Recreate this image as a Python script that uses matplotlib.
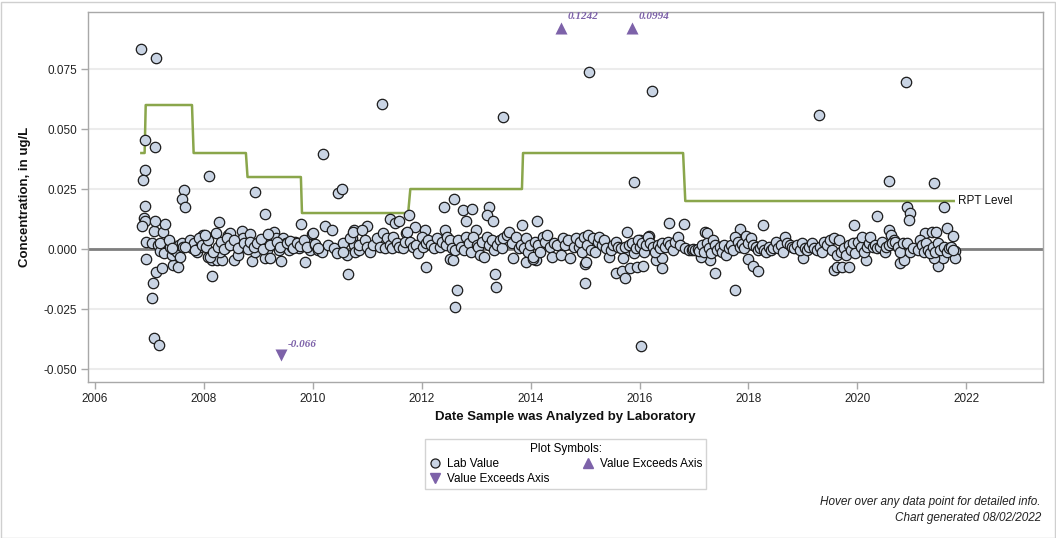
import matplotlib
matplotlib.use("Agg")
import matplotlib.pyplot as plt
from matplotlib.lines import Line2D
from matplotlib.patches import Rectangle

plt.rcParams['font.family'] = ['Liberation Sans', 'DejaVu Sans']
plt.rcParams['axes.unicode_minus'] = False

# ---------------- data (decimal year, concentration ug/L) ----------------
lab_2006_2008 = [
    (2006.845, 0.0833), (2007.12, 0.0796), (2006.92, 0.0454), (2007.10, 0.0425), (2006.92, 0.0329),
    (2006.88, 0.0288), (2006.92, 0.0179), (2006.90, 0.0129), (2006.92, 0.0117), (2006.86, 0.0096),
    (2006.94, 0.0029), (2007.05, 0.0025), (2006.94, -0.0042), (2007.08, 0.0075), (2007.10, 0.0117),
    (2007.12, -0.0096), (2007.07, -0.0142), (2007.05, -0.0204), (2007.08, -0.0371), (2007.18, -0.0400),
    (2007.23, -0.0079), (2007.25, 0.0071), (2007.29, 0.0104), (2007.63, 0.0246), (2007.60, 0.0208),
    (2007.65, 0.0175), (2007.43, -0.0067), (2007.52, -0.0075),
    (2007.15, 0.0017), (2007.19, -0.0007), (2007.26, -0.0015), (2007.32, 0.0024), (2007.36, 0.0033),
    (2007.38, 0.0010), (2007.41, -0.0025), (2007.44, -0.0001), (2007.50, -0.0011), (2007.55, 0.0017),
    (2007.56, -0.0032), (2007.59, 0.0024), (2007.62, 0.0010), (2007.75, 0.0038), (2007.78, 0.0003),
    (2007.81, 0.0024), (2007.87, -0.0011), (2007.92, 0.0010), (2007.94, 0.0051), (2007.99, 0.0058),
    (2007.19, 0.0024), (2007.35, 0.0038), (2007.41, 0.0003), (2007.65, 0.0007), (2007.84, -0.0004),
    (2007.90, 0.0044), (2007.96, 0.0017),
]

lab_2008_2010 = [
    (2008.09, 0.0304), (2008.15, -0.0112), (2008.94, 0.0238), (2009.12, 0.0146), (2009.78, 0.0104),
    (2008.05, 0.0051), (2008.04, 0.0010), (2008.07, 0.0038), (2008.08, -0.0032), (2008.14, -0.0046),
    (2008.17, -0.0025), (2008.22, 0.0068), (2008.27, 0.0114), (2008.24, -0.0046), (2008.33, -0.0046),
    (2008.30, -0.0011), (2008.39, 0.0003), (2008.45, 0.0058), (2008.48, 0.0065), (2008.54, 0.0031),
    (2008.56, -0.0046), (2008.63, -0.0025), (2008.66, 0.0010), (2008.69, 0.0076), (2008.71, 0.0044),
    (2008.77, 0.0010), (2008.84, 0.0063), (2008.89, -0.0051), (2008.94, -0.0011), (2008.97, 0.0017),
    (2009.03, 0.0024), (2009.09, 0.0031), (2009.15, -0.0004), (2009.13, -0.0039), (2009.21, -0.0039),
    (2009.28, 0.0072), (2009.33, 0.0044), (2009.37, -0.0004), (2009.41, -0.0050), (2009.46, 0.0044),
    (2009.50, 0.0024), (2009.56, -0.0004), (2009.61, 0.0010), (2009.67, 0.0031), (2009.74, 0.0003),
    (2009.86, -0.0053), (2009.89, 0.0024), (2009.95, -0.0004),
    (2008.02, 0.0058), (2008.11, -0.0032), (2008.17, -0.0011), (2008.25, 0.0010), (2008.31, 0.0031),
    (2008.36, -0.0001), (2008.43, 0.0044), (2008.48, 0.0017), (2008.55, 0.0038), (2008.62, 0.0003),
    (2008.73, 0.0024), (2008.80, -0.0001), (2008.85, 0.0031), (2008.92, 0.0007), (2008.98, 0.0024),
    (2009.04, 0.0040), (2009.09, -0.0001), (2009.17, 0.0063), (2009.22, 0.0017), (2009.34, 0.0031),
    (2009.40, 0.0007), (2009.52, 0.0024), (2009.58, 0.0035), (2009.64, 0.0003), (2009.71, 0.0026),
    (2009.77, 0.0013), (2009.83, 0.0038), (2009.90, 0.0007), (2009.98, 0.0063),
]

lab_2010_2012 = [
    (2010.19, 0.0396), (2011.27, 0.0604), (2010.47, 0.0232), (2010.53, 0.0249), (2010.65, -0.0104),
    (2011.76, 0.0142), (2011.42, 0.0124), (2011.51, 0.0107), (2011.59, 0.0118), (2011.88, 0.0093),
    (2011.00, 0.0096), (2011.71, 0.0065),
    (2010.01, 0.0065), (2010.04, 0.0017), (2010.10, -0.0004), (2010.16, -0.0011), (2010.23, 0.0096),
    (2010.27, 0.0017), (2010.36, 0.0079), (2010.38, 0.0003), (2010.44, -0.0018), (2010.56, 0.0024),
    (2010.62, -0.0025), (2010.72, 0.0044), (2010.75, 0.0017), (2010.78, -0.0011), (2010.75, 0.0079),
    (2010.84, -0.0004), (2010.04, 0.0021), (2010.10, 0.0003),
    (2010.56, -0.0011), (2010.68, 0.0044), (2010.74, 0.0072), (2010.84, 0.0017), (2010.90, 0.0079),
    (2010.96, 0.0038), (2011.00, 0.0010), (2011.05, -0.0011), (2011.11, 0.0017), (2011.17, 0.0044),
    (2011.23, 0.0010), (2011.28, 0.0068), (2011.33, 0.0003), (2011.37, 0.0044), (2011.42, 0.0017),
    (2011.45, 0.0003), (2011.48, 0.0051), (2011.54, 0.0024), (2011.58, 0.0010), (2011.65, 0.0003),
    (2011.69, 0.0031), (2011.72, 0.0072), (2011.79, 0.0031), (2011.84, 0.0010), (2011.90, 0.0017),
    (2011.94, -0.0018),
]

lab_2012_2014 = [
    (2012.41, 0.0176), (2012.59, 0.0208), (2012.76, 0.0163), (2012.93, 0.0165), (2012.81, 0.0117),
    (2013.23, 0.0176), (2013.20, 0.0142), (2013.30, 0.0117), (2013.85, 0.0100), (2013.49, 0.0550),
    (2012.06, 0.0079), (2012.43, 0.0079), (2013.00, 0.0079), (2012.08, -0.0076), (2012.52, -0.0042),
    (2012.58, -0.0046), (2012.64, -0.0171), (2012.61, -0.0243), (2013.35, -0.0106), (2013.37, -0.0157),
    (2013.91, -0.0053),
    (2012.00, 0.0051), (2012.03, 0.0010), (2012.08, 0.0024), (2012.12, 0.0038), (2012.17, 0.0017),
    (2012.23, 0.0003), (2012.28, 0.0044), (2012.34, 0.0010), (2012.37, 0.0031), (2012.45, 0.0017),
    (2012.47, 0.0051), (2012.52, 0.0038), (2012.55, 0.0003), (2012.61, -0.0004), (2012.67, 0.0038),
    (2012.72, 0.0010), (2012.77, -0.0004), (2012.81, 0.0051), (2012.86, 0.0024), (2012.90, -0.0011),
    (2012.95, 0.0051), (2013.01, 0.0017), (2013.03, 0.0010), (2013.07, -0.0025), (2013.10, 0.0031),
    (2013.15, -0.0032), (2013.19, 0.0051), (2013.24, 0.0017), (2013.29, 0.0038), (2013.33, -0.0004),
    (2013.38, 0.0017), (2013.43, 0.0038), (2013.47, 0.0003), (2013.50, 0.0044), (2013.56, 0.0058),
    (2013.61, 0.0072), (2013.65, 0.0024), (2013.68, -0.0039), (2013.73, 0.0051), (2013.78, 0.0003),
    (2013.82, 0.0017), (2013.87, 0.0003), (2013.91, 0.0044), (2013.96, -0.0011), (2013.99, 0.0017),
]

lab_2014_2016 = [
    (2014.11, 0.0117), (2015.07, 0.0737), (2016.23, 0.0658), (2015.90, 0.0280), (2016.55, 0.0107),
    (2016.81, 0.0104), (2014.09, -0.0046), (2015.00, -0.0140), (2014.99, -0.0064), (2015.01, -0.0053),
    (2015.57, -0.0099), (2015.67, -0.0090), (2015.74, -0.0122), (2015.83, -0.0081), (2015.95, -0.0074),
    (2016.07, -0.0071), (2016.03, -0.0404), (2016.31, -0.0046), (2016.41, -0.0039), (2016.41, -0.0081),
    (2015.77, 0.0069), (2016.17, 0.0054), (2016.01, 0.0038), (2015.78, -0.0004), (2014.05, -0.0043),
    (2014.04, -0.0032), (2014.08, 0.0031), (2014.13, 0.0017), (2014.17, -0.0011), (2014.22, 0.0051),
    (2014.26, 0.0031), (2014.30, 0.0058), (2014.35, 0.0010), (2014.39, -0.0032), (2014.42, 0.0024),
    (2014.48, 0.0017), (2014.55, -0.0025), (2014.59, 0.0044), (2014.63, 0.0017), (2014.68, 0.0038),
    (2014.73, -0.0039), (2014.79, 0.0010), (2014.84, 0.0044), (2014.88, 0.0010), (2014.91, 0.0031),
    (2014.94, -0.0011), (2014.98, 0.0051), (2015.03, 0.0017), (2015.06, 0.0058), (2015.11, -0.0004),
    (2015.14, 0.0044), (2015.18, -0.0011), (2015.23, 0.0031), (2015.26, 0.0051), (2015.31, 0.0017),
    (2015.34, 0.0038), (2015.39, 0.0003), (2015.43, -0.0032), (2015.47, -0.0004), (2015.52, 0.0017),
    (2015.57, 0.0031), (2015.61, 0.0010), (2015.66, 0.0003), (2015.69, -0.0039), (2015.74, 0.0010),
    (2015.80, 0.0017), (2015.86, 0.0024), (2015.89, -0.0018), (2015.94, 0.0003), (2015.97, 0.0038),
    (2016.00, 0.0010), (2016.04, 0.0024), (2016.09, -0.0011), (2016.12, 0.0017), (2016.15, 0.0051),
    (2016.20, 0.0024), (2016.24, 0.0010), (2016.29, -0.0011), (2016.33, 0.0017), (2016.37, 0.0003),
    (2016.41, 0.0024), (2016.47, 0.0010), (2016.53, 0.0031), (2016.56, 0.0017), (2016.61, -0.0004),
    (2016.65, 0.0031), (2016.70, 0.0051), (2016.75, 0.0017),
]

lab_2017_2021 = [
    (2020.58, 0.0285), (2021.40, 0.0274), (2021.60, 0.0176), (2020.91, 0.0176), (2020.97, 0.0149),
    (2020.94, 0.0121), (2020.37, 0.0138), (2019.94, 0.0100), (2018.26, 0.0100), (2017.85, 0.0082),
    (2017.21, 0.0072), (2017.24, 0.0068), (2020.58, 0.0079), (2020.61, 0.0058), (2020.67, 0.0038),
    (2021.25, 0.0065), (2021.37, 0.0072), (2021.45, 0.0069), (2021.65, 0.0086), (2021.76, 0.0054),
    (2021.79, -0.0008), (2021.79, -0.0039), (2017.75, -0.0171), (2017.39, -0.0101), (2018.00, -0.0042),
    (2018.08, -0.0071), (2018.17, -0.0090), (2019.00, -0.0039), (2019.57, -0.0088), (2019.63, -0.0076),
    (2019.72, -0.0074), (2019.84, -0.0076), (2020.79, -0.0060), (2020.86, -0.0046), (2021.48, -0.0071),
    (2021.57, -0.0039), (2021.41, -0.0039), (2017.30, -0.0046), (2017.13, -0.0035), (2020.15, -0.0046),
    (2019.30, 0.0558), (2020.90, 0.0696),
    (2016.84, 0.0003), (2016.90, -0.0004), (2016.96, -0.0004), (2016.99, -0.0001), (2017.02, -0.0004),
    (2017.07, 0.0000), (2017.10, -0.0007), (2017.15, 0.0017), (2017.18, -0.0011), (2017.23, 0.0024),
    (2017.27, 0.0003), (2017.31, -0.0018), (2017.35, 0.0038), (2017.39, 0.0017), (2017.43, -0.0004),
    (2017.47, 0.0010), (2017.51, -0.0011), (2017.56, 0.0017), (2017.59, -0.0025), (2017.64, 0.0003),
    (2017.68, 0.0017), (2017.72, -0.0004), (2017.76, 0.0051), (2017.80, 0.0031), (2017.84, 0.0010),
    (2017.88, 0.0021), (2017.92, 0.0003), (2017.96, 0.0054), (2018.00, 0.0024), (2018.05, 0.0044),
    (2018.08, 0.0017), (2018.13, 0.0010), (2018.17, -0.0004), (2018.21, 0.0003), (2018.25, 0.0017),
    (2018.29, -0.0004), (2018.33, -0.0011), (2018.37, 0.0010), (2018.41, -0.0004), (2018.46, 0.0003),
    (2018.51, 0.0031), (2018.55, 0.0003), (2018.59, 0.0017), (2018.63, -0.0011), (2018.68, 0.0051),
    (2018.71, 0.0024), (2018.76, 0.0017), (2018.80, 0.0010), (2018.84, 0.0003), (2018.89, 0.0017),
    (2018.94, -0.0004), (2018.98, 0.0024), (2019.03, 0.0003), (2019.08, -0.0004), (2019.12, 0.0010),
    (2019.17, 0.0024), (2019.21, 0.0003), (2019.26, -0.0004), (2019.31, 0.0010), (2019.35, -0.0011),
    (2019.39, 0.0031), (2019.44, 0.0017), (2019.49, 0.0038), (2019.53, -0.0004), (2019.58, 0.0044),
    (2019.63, -0.0025), (2019.66, 0.0038), (2019.70, -0.0011), (2019.75, 0.0003), (2019.80, -0.0025),
    (2019.84, 0.0017), (2019.88, -0.0004), (2019.92, 0.0024), (2019.96, -0.0018), (2020.01, 0.0031),
    (2020.06, 0.0010), (2020.09, 0.0051), (2020.13, -0.0011), (2020.17, 0.0010), (2020.21, 0.0024),
    (2020.24, 0.0051), (2020.29, 0.0010), (2020.33, 0.0017), (2020.37, 0.0003), (2020.41, 0.0010),
    (2020.45, 0.0031), (2020.50, -0.0011), (2020.53, 0.0010), (2020.58, 0.0017), (2020.64, 0.0024),
    (2020.70, 0.0031), (2020.74, 0.0010), (2020.79, -0.0011), (2020.84, 0.0024), (2020.92, 0.0024),
    (2020.97, -0.0011), (2021.03, 0.0003), (2021.11, -0.0004), (2021.15, 0.0038), (2021.19, 0.0017),
    (2021.23, -0.0011), (2021.27, 0.0024), (2021.29, -0.0004), (2021.34, -0.0018), (2021.39, 0.0010),
    (2021.43, -0.0011), (2021.49, 0.0024), (2021.52, -0.0004), (2021.59, 0.0010), (2021.64, -0.0011),
    (2021.68, 0.0003), (2021.72, 0.0010), (2021.76, -0.0004),
]

# Values exceeding the axis: plotted at the axis edge, labelled with true value
exceed_up_dates = [2014.56, 2015.86]
exceed_up_plot = [0.0921, 0.0921]
exceed_up_labels = ["0.1242", "0.0994"]
exceed_down_dates = [2009.42]
exceed_down_plot = [-0.0442]
exceed_down_labels = ["-0.066"]

# Reporting level (step line)
rpt_dates = [2006.85, 2006.91, 2006.93, 2007.78, 2007.81, 2008.77, 2008.80, 2009.78, 2009.80,
             2011.75, 2011.79, 2013.84, 2013.86, 2016.80, 2016.84, 2021.77]
rpt_values = [0.040, 0.040, 0.060, 0.060, 0.040, 0.040, 0.030, 0.030, 0.015,
              0.015, 0.025, 0.025, 0.040, 0.040, 0.020, 0.020]

y_ticks = [-0.050, -0.025, 0.000, 0.025, 0.050, 0.075]
x_ticks = [2006, 2008, 2010, 2012, 2014, 2016, 2018, 2020, 2022]

# ---------------- figure ----------------
W, H = 1056, 538
fig = plt.figure(figsize=(W / 100, H / 100), dpi=100)
fig.patches.append(Rectangle((0.5 / W, 0.5 / H), 1 - 2 / W, 1 - 2 / H, transform=fig.transFigure,
                             fill=False, edgecolor='#cfcfcf', linewidth=1.0))

ax = fig.add_axes([88 / W, 1 - 382 / H, (1043 - 88) / W, (382 - 12) / H])
ax.set_xlim(2005.87, 2023.41)
ax.set_ylim(-0.0554, 0.09875)

for sp in ax.spines.values():
    sp.set_color('#a8a8a8')
    sp.set_linewidth(1.0)

ax.set_yticks(y_ticks)
ax.set_yticklabels([f"{v:.3f}" for v in y_ticks])
ax.set_xticks(x_ticks)
ax.set_xticklabels([str(v) for v in x_ticks])
ax.tick_params(axis='both', direction='out', length=5, width=1, color='#a8a8a8',
               labelsize=8.5, labelcolor='#222222', pad=3)

for yv in y_ticks:
    ax.axhline(yv, color='#ececec', linewidth=1.5, zorder=0)
ax.axhline(0.0, color='#7f7f7f', linewidth=2.0, zorder=1)

ax.plot(rpt_dates, rpt_values, color='#8aa64b', linewidth=1.8, zorder=2)
ax.text(rpt_dates[-1] + 0.08, rpt_values[-1], "RPT Level", fontsize=8.5, va='center', ha='left',
        color='#111111')

all_lab = (lab_2006_2008 + lab_2008_2010 + lab_2010_2012 + lab_2012_2014 +
           lab_2014_2016 + lab_2017_2021)
xs = [p[0] for p in all_lab]
ys = [p[1] for p in all_lab]
ax.scatter(xs, ys, s=56, facecolor='#c9d4e4', edgecolor='#1c1c1c', linewidth=0.9, zorder=3)

purple = '#7d62a9'
ax.scatter(exceed_up_dates, exceed_up_plot, marker='^', s=75, color=purple, zorder=4, linewidth=0)
ax.scatter(exceed_down_dates, exceed_down_plot, marker='v', s=75, color=purple, zorder=4, linewidth=0)
for xd, yd, lab in zip(exceed_up_dates, exceed_up_plot, exceed_up_labels):
    ax.annotate(lab, (xd, yd), xytext=(5, 8), textcoords='offset points', fontsize=8,
                color=purple, fontweight='bold', fontstyle='italic', family='Liberation Serif',
                va='center', ha='left')
for xd, yd, lab in zip(exceed_down_dates, exceed_down_plot, exceed_down_labels):
    ax.annotate(lab, (xd, yd), xytext=(5, 8), textcoords='offset points', fontsize=8,
                color=purple, fontweight='bold', fontstyle='italic', family='Liberation Serif',
                va='center', ha='left')

ax.set_xlabel("Date Sample was Analyzed by Laboratory", fontsize=9.5, fontweight='bold',
              labelpad=4, color='#111111')
ax.set_ylabel("Concentration, in ug/L", fontsize=9.5, fontweight='bold', labelpad=9, color='#111111')

# legend
h_circle = Line2D([], [], linestyle='none', marker='o', markersize=6.5, markerfacecolor='#c9d4e4',
                  markeredgecolor='#1c1c1c', markeredgewidth=0.9)
h_down = Line2D([], [], linestyle='none', marker='v', markersize=7, color=purple)
h_up = Line2D([], [], linestyle='none', marker='^', markersize=7, color=purple)
leg = fig.legend([h_circle, h_down, h_up], ["Lab Value", "Value Exceeds Axis", "Value Exceeds Axis"],
                 ncol=2, title="Plot Symbols:", loc='upper center', bbox_to_anchor=(565.5 / W, 1 - 433 / H),
                 fontsize=8.5, title_fontsize=8.5, frameon=True, fancybox=False, edgecolor='#c8c8c8',
                 handletextpad=0.5, columnspacing=2.8, borderpad=0.35, labelspacing=0.25,
                 handlelength=1.0)
leg.get_frame().set_linewidth(1.0)

fig.text(1041 / W, 1 - 502 / H, "Hover over any data point for detailed info.", fontsize=8.5,
         fontstyle='italic', ha='right', va='center', color='#222222')
fig.text(1041 / W, 1 - 518 / H, "Chart generated 08/02/2022", fontsize=8.5,
         fontstyle='italic', ha='right', va='center', color='#222222')

fig.savefig("out.png", dpi=100)
